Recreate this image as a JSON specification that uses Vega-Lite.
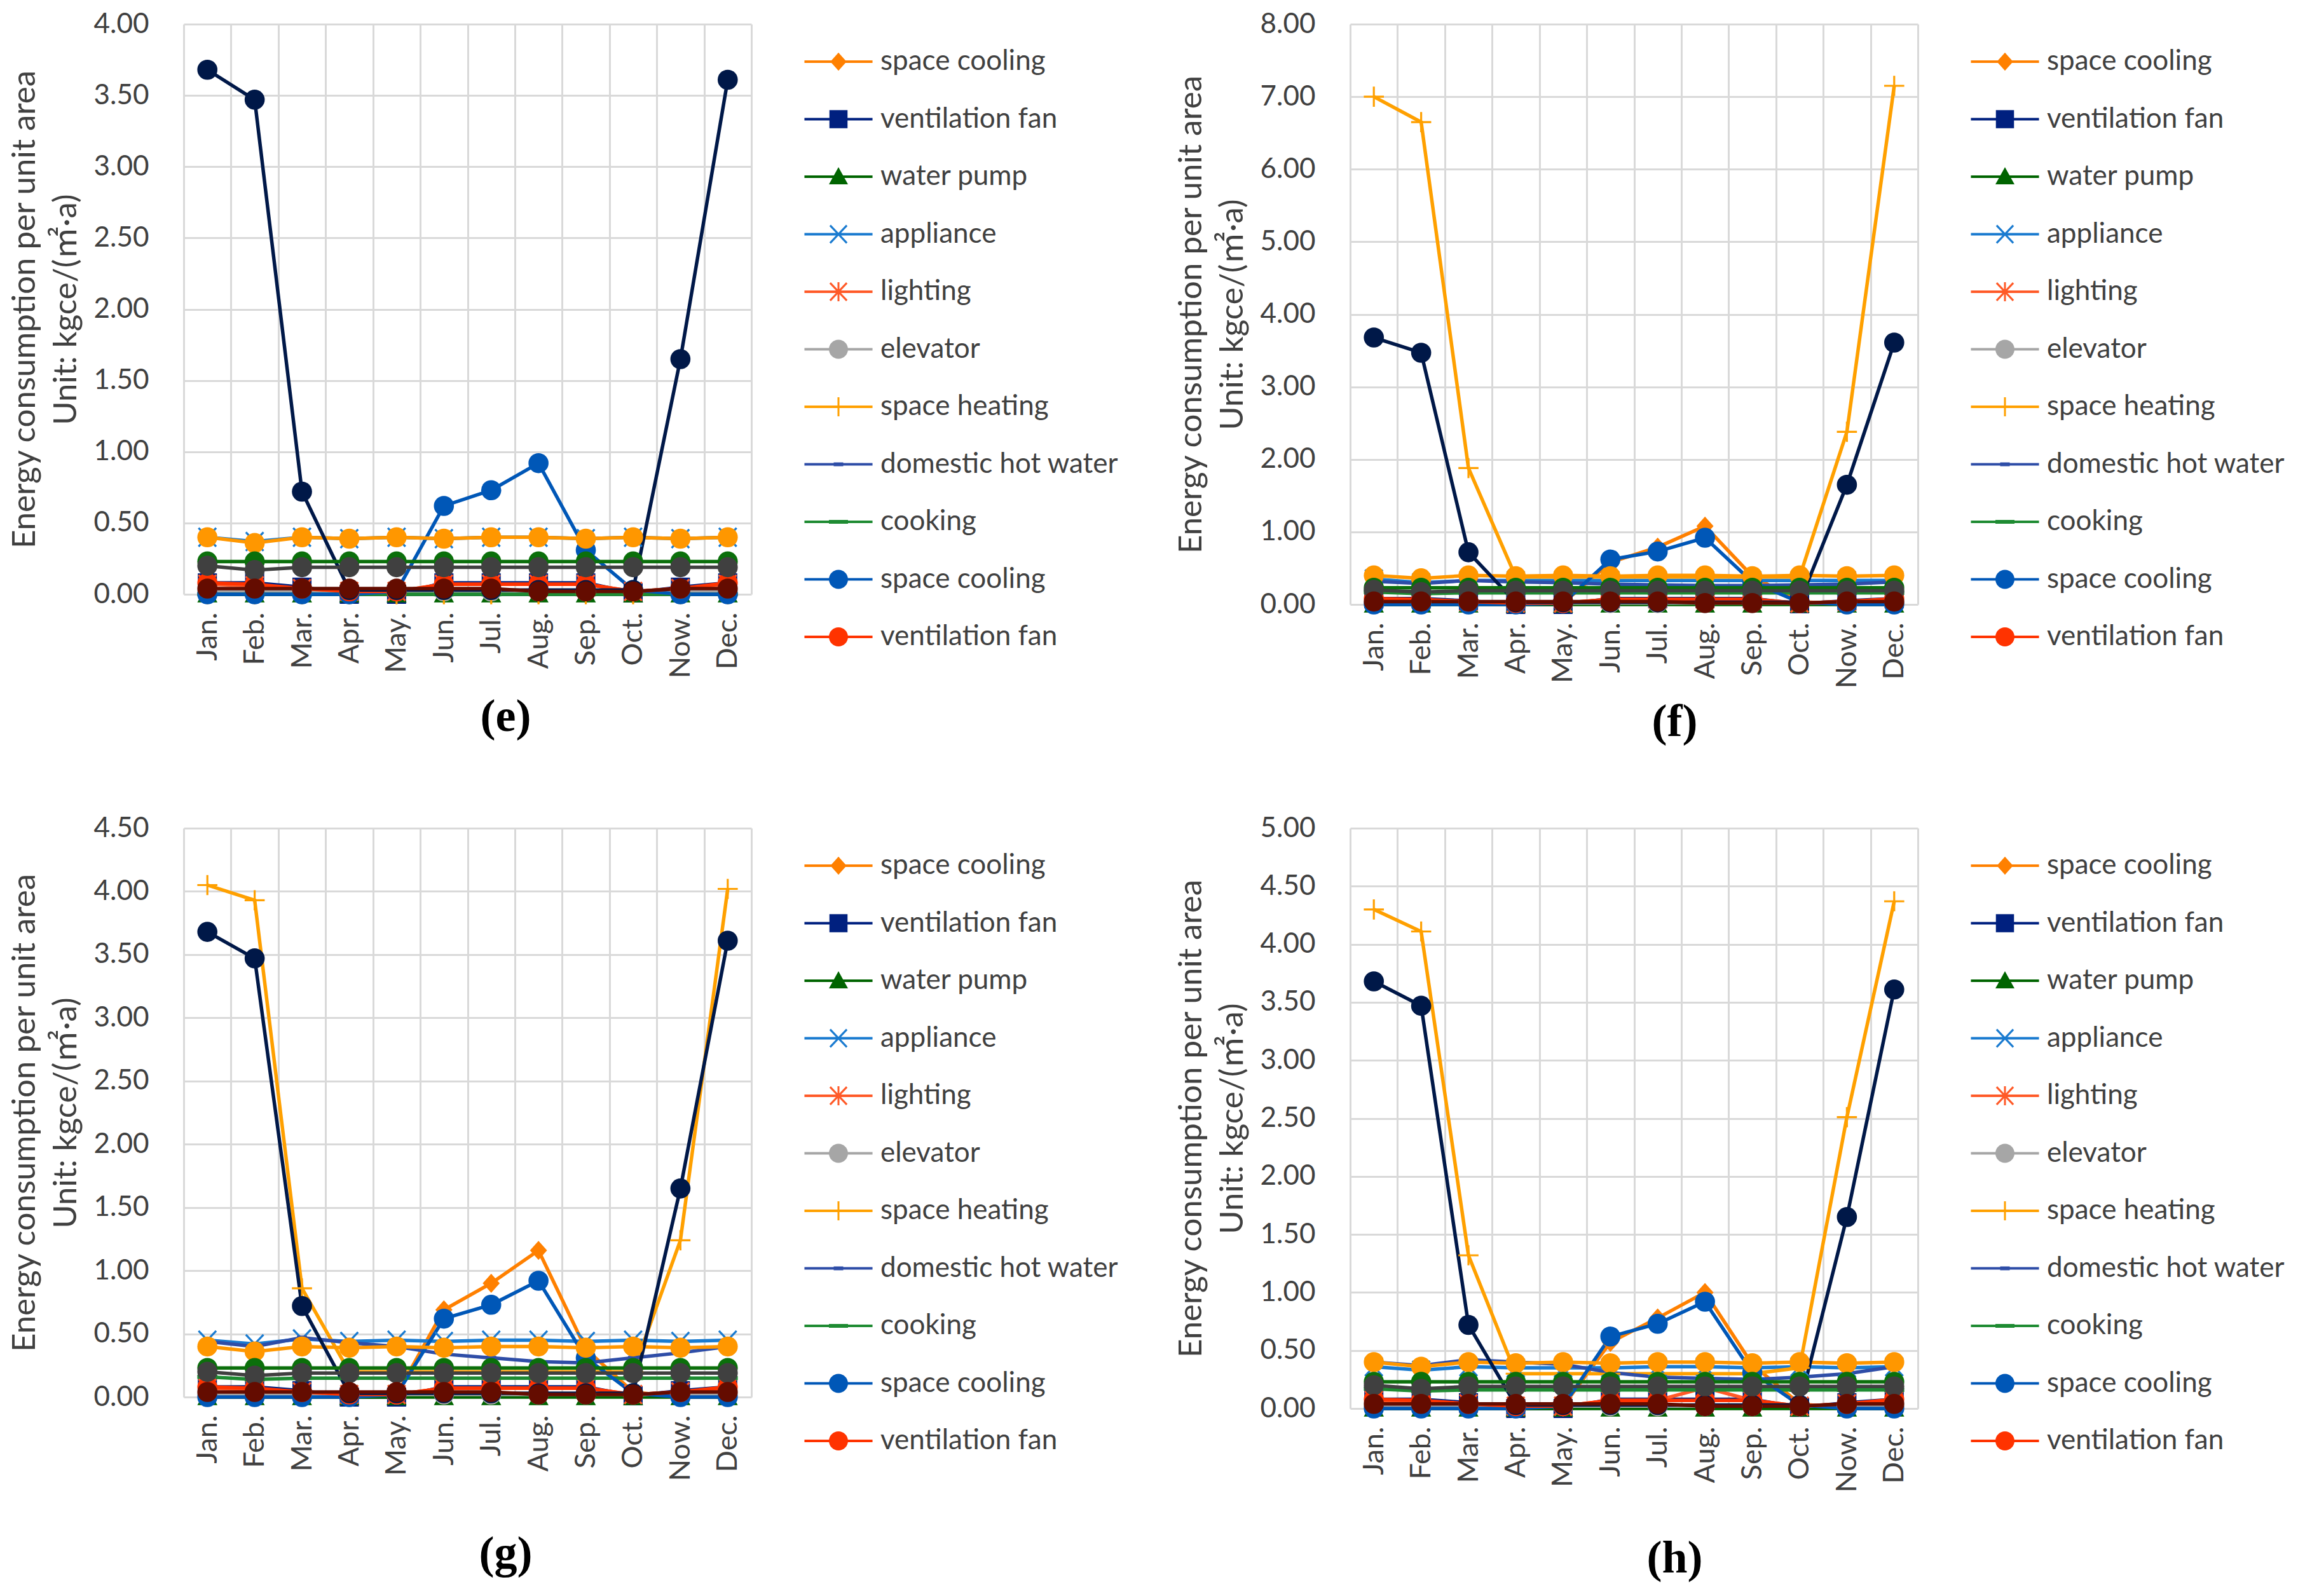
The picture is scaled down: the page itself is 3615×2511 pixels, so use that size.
{
"$schema": "https://vega.github.io/schema/vega-lite/v6.json",
"background": "white",
"padding": {"left": 13, "top": 16, "right": 5, "bottom": 5},
"datasets": {
"e": [
{"s":"sc","m":"Jan.","v":0},{"s":"sc","m":"Feb.","v":0},{"s":"sc","m":"Mar.","v":0},{"s":"sc","m":"Apr.","v":0},{"s":"sc","m":"May.","v":0},{"s":"sc","m":"Jun.","v":0},{"s":"sc","m":"Jul.","v":0},{"s":"sc","m":"Aug.","v":0},{"s":"sc","m":"Sep.","v":0},{"s":"sc","m":"Oct.","v":0},{"s":"sc","m":"Now.","v":0},{"s":"sc","m":"Dec.","v":0},
{"s":"vf","m":"Jan.","v":0.08},{"s":"vf","m":"Feb.","v":0.08},{"s":"vf","m":"Mar.","v":0.05},{"s":"vf","m":"Apr.","v":0},{"s":"vf","m":"May.","v":0},{"s":"vf","m":"Jun.","v":0.08},{"s":"vf","m":"Jul.","v":0.08},{"s":"vf","m":"Aug.","v":0.08},{"s":"vf","m":"Sep.","v":0.08},{"s":"vf","m":"Oct.","v":0.01},{"s":"vf","m":"Now.","v":0.05},{"s":"vf","m":"Dec.","v":0.08},
{"s":"wp","m":"Jan.","v":0},{"s":"wp","m":"Feb.","v":0},{"s":"wp","m":"Mar.","v":0},{"s":"wp","m":"Apr.","v":0},{"s":"wp","m":"May.","v":0},{"s":"wp","m":"Jun.","v":0},{"s":"wp","m":"Jul.","v":0},{"s":"wp","m":"Aug.","v":0},{"s":"wp","m":"Sep.","v":0},{"s":"wp","m":"Oct.","v":0},{"s":"wp","m":"Now.","v":0},{"s":"wp","m":"Dec.","v":0},
{"s":"ap","m":"Jan.","v":0.40},{"s":"ap","m":"Feb.","v":0.37},{"s":"ap","m":"Mar.","v":0.40},{"s":"ap","m":"Apr.","v":0.39},{"s":"ap","m":"May.","v":0.40},{"s":"ap","m":"Jun.","v":0.39},{"s":"ap","m":"Jul.","v":0.40},{"s":"ap","m":"Aug.","v":0.40},{"s":"ap","m":"Sep.","v":0.39},{"s":"ap","m":"Oct.","v":0.40},{"s":"ap","m":"Now.","v":0.39},{"s":"ap","m":"Dec.","v":0.40},
{"s":"li","m":"Jan.","v":0.07},{"s":"li","m":"Feb.","v":0.06},{"s":"li","m":"Mar.","v":0.04},{"s":"li","m":"Apr.","v":0.02},{"s":"li","m":"May.","v":0.02},{"s":"li","m":"Jun.","v":0.07},{"s":"li","m":"Jul.","v":0.07},{"s":"li","m":"Aug.","v":0.07},{"s":"li","m":"Sep.","v":0.07},{"s":"li","m":"Oct.","v":0.02},{"s":"li","m":"Now.","v":0.04},{"s":"li","m":"Dec.","v":0.07},
{"s":"el","m":"Jan.","v":0.02},{"s":"el","m":"Feb.","v":0.02},{"s":"el","m":"Mar.","v":0.02},{"s":"el","m":"Apr.","v":0.02},{"s":"el","m":"May.","v":0.02},{"s":"el","m":"Jun.","v":0.02},{"s":"el","m":"Jul.","v":0.02},{"s":"el","m":"Aug.","v":0.02},{"s":"el","m":"Sep.","v":0.02},{"s":"el","m":"Oct.","v":0.02},{"s":"el","m":"Now.","v":0.02},{"s":"el","m":"Dec.","v":0.02},
{"s":"sh","m":"Jan.","v":0},{"s":"sh","m":"Feb.","v":0},{"s":"sh","m":"Mar.","v":0},{"s":"sh","m":"Apr.","v":0},{"s":"sh","m":"May.","v":0},{"s":"sh","m":"Jun.","v":0},{"s":"sh","m":"Jul.","v":0},{"s":"sh","m":"Aug.","v":0},{"s":"sh","m":"Sep.","v":0},{"s":"sh","m":"Oct.","v":0},{"s":"sh","m":"Now.","v":0},{"s":"sh","m":"Dec.","v":0},
{"s":"dhw","m":"Jan.","v":0},{"s":"dhw","m":"Feb.","v":0},{"s":"dhw","m":"Mar.","v":0},{"s":"dhw","m":"Apr.","v":0},{"s":"dhw","m":"May.","v":0},{"s":"dhw","m":"Jun.","v":0},{"s":"dhw","m":"Jul.","v":0},{"s":"dhw","m":"Aug.","v":0},{"s":"dhw","m":"Sep.","v":0},{"s":"dhw","m":"Oct.","v":0},{"s":"dhw","m":"Now.","v":0},{"s":"dhw","m":"Dec.","v":0},
{"s":"ck","m":"Jan.","v":0},{"s":"ck","m":"Feb.","v":0},{"s":"ck","m":"Mar.","v":0},{"s":"ck","m":"Apr.","v":0},{"s":"ck","m":"May.","v":0},{"s":"ck","m":"Jun.","v":0},{"s":"ck","m":"Jul.","v":0},{"s":"ck","m":"Aug.","v":0},{"s":"ck","m":"Sep.","v":0},{"s":"ck","m":"Oct.","v":0},{"s":"ck","m":"Now.","v":0},{"s":"ck","m":"Dec.","v":0},
{"s":"sc2","m":"Jan.","v":0},{"s":"sc2","m":"Feb.","v":0},{"s":"sc2","m":"Mar.","v":0},{"s":"sc2","m":"Apr.","v":0},{"s":"sc2","m":"May.","v":0.02},{"s":"sc2","m":"Jun.","v":0.62},{"s":"sc2","m":"Jul.","v":0.73},{"s":"sc2","m":"Aug.","v":0.92},{"s":"sc2","m":"Sep.","v":0.31},{"s":"sc2","m":"Oct.","v":0.03},{"s":"sc2","m":"Now.","v":0},{"s":"sc2","m":"Dec.","v":0},
{"s":"vf2","m":"Jan.","v":0.08},{"s":"vf2","m":"Feb.","v":0.07},{"s":"vf2","m":"Mar.","v":0.04},{"s":"vf2","m":"Apr.","v":0.02},{"s":"vf2","m":"May.","v":0.02},{"s":"vf2","m":"Jun.","v":0.07},{"s":"vf2","m":"Jul.","v":0.07},{"s":"vf2","m":"Aug.","v":0.07},{"s":"vf2","m":"Sep.","v":0.07},{"s":"vf2","m":"Oct.","v":0.02},{"s":"vf2","m":"Now.","v":0.04},{"s":"vf2","m":"Dec.","v":0.08},
{"s":"o1","m":"Jan.","v":0.40},{"s":"o1","m":"Feb.","v":0.36},{"s":"o1","m":"Mar.","v":0.40},{"s":"o1","m":"Apr.","v":0.39},{"s":"o1","m":"May.","v":0.40},{"s":"o1","m":"Jun.","v":0.39},{"s":"o1","m":"Jul.","v":0.40},{"s":"o1","m":"Aug.","v":0.40},{"s":"o1","m":"Sep.","v":0.39},{"s":"o1","m":"Oct.","v":0.40},{"s":"o1","m":"Now.","v":0.39},{"s":"o1","m":"Dec.","v":0.40},
{"s":"o2","m":"Jan.","v":3.68},{"s":"o2","m":"Feb.","v":3.47},{"s":"o2","m":"Mar.","v":0.72},{"s":"o2","m":"Apr.","v":0.03},{"s":"o2","m":"May.","v":0.03},{"s":"o2","m":"Jun.","v":0.03},{"s":"o2","m":"Jul.","v":0.03},{"s":"o2","m":"Aug.","v":0.03},{"s":"o2","m":"Sep.","v":0.03},{"s":"o2","m":"Oct.","v":0.03},{"s":"o2","m":"Now.","v":1.65},{"s":"o2","m":"Dec.","v":3.61},
{"s":"o3","m":"Jan.","v":0.23},{"s":"o3","m":"Feb.","v":0.23},{"s":"o3","m":"Mar.","v":0.23},{"s":"o3","m":"Apr.","v":0.23},{"s":"o3","m":"May.","v":0.23},{"s":"o3","m":"Jun.","v":0.23},{"s":"o3","m":"Jul.","v":0.23},{"s":"o3","m":"Aug.","v":0.23},{"s":"o3","m":"Sep.","v":0.23},{"s":"o3","m":"Oct.","v":0.23},{"s":"o3","m":"Now.","v":0.23},{"s":"o3","m":"Dec.","v":0.23},
{"s":"o4","m":"Jan.","v":0.20},{"s":"o4","m":"Feb.","v":0.17},{"s":"o4","m":"Mar.","v":0.19},{"s":"o4","m":"Apr.","v":0.19},{"s":"o4","m":"May.","v":0.19},{"s":"o4","m":"Jun.","v":0.19},{"s":"o4","m":"Jul.","v":0.19},{"s":"o4","m":"Aug.","v":0.19},{"s":"o4","m":"Sep.","v":0.19},{"s":"o4","m":"Oct.","v":0.19},{"s":"o4","m":"Now.","v":0.19},{"s":"o4","m":"Dec.","v":0.19},
{"s":"o5","m":"Jan.","v":0.04},{"s":"o5","m":"Feb.","v":0.04},{"s":"o5","m":"Mar.","v":0.04},{"s":"o5","m":"Apr.","v":0.04},{"s":"o5","m":"May.","v":0.04},{"s":"o5","m":"Jun.","v":0.04},{"s":"o5","m":"Jul.","v":0.04},{"s":"o5","m":"Aug.","v":0.02},{"s":"o5","m":"Sep.","v":0.02},{"s":"o5","m":"Oct.","v":0.02},{"s":"o5","m":"Now.","v":0.04},{"s":"o5","m":"Dec.","v":0.04}
],
"f": [
{"s":"sc","m":"Jan.","v":0},{"s":"sc","m":"Feb.","v":0},{"s":"sc","m":"Mar.","v":0},{"s":"sc","m":"Apr.","v":0},{"s":"sc","m":"May.","v":0.02},{"s":"sc","m":"Jun.","v":0.58},{"s":"sc","m":"Jul.","v":0.79},{"s":"sc","m":"Aug.","v":1.08},{"s":"sc","m":"Sep.","v":0.39},{"s":"sc","m":"Oct.","v":0.04},{"s":"sc","m":"Now.","v":0},{"s":"sc","m":"Dec.","v":0},
{"s":"vf","m":"Jan.","v":0.08},{"s":"vf","m":"Feb.","v":0.08},{"s":"vf","m":"Mar.","v":0.05},{"s":"vf","m":"Apr.","v":0},{"s":"vf","m":"May.","v":0},{"s":"vf","m":"Jun.","v":0.08},{"s":"vf","m":"Jul.","v":0.08},{"s":"vf","m":"Aug.","v":0.08},{"s":"vf","m":"Sep.","v":0.08},{"s":"vf","m":"Oct.","v":0.01},{"s":"vf","m":"Now.","v":0.05},{"s":"vf","m":"Dec.","v":0.08},
{"s":"wp","m":"Jan.","v":0},{"s":"wp","m":"Feb.","v":0},{"s":"wp","m":"Mar.","v":0},{"s":"wp","m":"Apr.","v":0},{"s":"wp","m":"May.","v":0},{"s":"wp","m":"Jun.","v":0},{"s":"wp","m":"Jul.","v":0},{"s":"wp","m":"Aug.","v":0},{"s":"wp","m":"Sep.","v":0},{"s":"wp","m":"Oct.","v":0},{"s":"wp","m":"Now.","v":0},{"s":"wp","m":"Dec.","v":0},
{"s":"ap","m":"Jan.","v":0.35},{"s":"ap","m":"Feb.","v":0.30},{"s":"ap","m":"Mar.","v":0.33},{"s":"ap","m":"Apr.","v":0.33},{"s":"ap","m":"May.","v":0.33},{"s":"ap","m":"Jun.","v":0.33},{"s":"ap","m":"Jul.","v":0.33},{"s":"ap","m":"Aug.","v":0.33},{"s":"ap","m":"Sep.","v":0.33},{"s":"ap","m":"Oct.","v":0.33},{"s":"ap","m":"Now.","v":0.33},{"s":"ap","m":"Dec.","v":0.33},
{"s":"li","m":"Jan.","v":0.07},{"s":"li","m":"Feb.","v":0.06},{"s":"li","m":"Mar.","v":0.04},{"s":"li","m":"Apr.","v":0.02},{"s":"li","m":"May.","v":0.02},{"s":"li","m":"Jun.","v":0.07},{"s":"li","m":"Jul.","v":0.07},{"s":"li","m":"Aug.","v":0.07},{"s":"li","m":"Sep.","v":0.07},{"s":"li","m":"Oct.","v":0.02},{"s":"li","m":"Now.","v":0.04},{"s":"li","m":"Dec.","v":0.07},
{"s":"el","m":"Jan.","v":0.02},{"s":"el","m":"Feb.","v":0.02},{"s":"el","m":"Mar.","v":0.02},{"s":"el","m":"Apr.","v":0.02},{"s":"el","m":"May.","v":0.02},{"s":"el","m":"Jun.","v":0.02},{"s":"el","m":"Jul.","v":0.02},{"s":"el","m":"Aug.","v":0.02},{"s":"el","m":"Sep.","v":0.02},{"s":"el","m":"Oct.","v":0.02},{"s":"el","m":"Now.","v":0.02},{"s":"el","m":"Dec.","v":0.02},
{"s":"sh","m":"Jan.","v":7.00},{"s":"sh","m":"Feb.","v":6.65},{"s":"sh","m":"Mar.","v":1.88},{"s":"sh","m":"Apr.","v":0.38},{"s":"sh","m":"May.","v":0.38},{"s":"sh","m":"Jun.","v":0.38},{"s":"sh","m":"Jul.","v":0.38},{"s":"sh","m":"Aug.","v":0.38},{"s":"sh","m":"Sep.","v":0.38},{"s":"sh","m":"Oct.","v":0.38},{"s":"sh","m":"Now.","v":2.38},{"s":"sh","m":"Dec.","v":7.15},
{"s":"dhw","m":"Jan.","v":0.32},{"s":"dhw","m":"Feb.","v":0.29},{"s":"dhw","m":"Mar.","v":0.33},{"s":"dhw","m":"Apr.","v":0.31},{"s":"dhw","m":"May.","v":0.30},{"s":"dhw","m":"Jun.","v":0.28},{"s":"dhw","m":"Jul.","v":0.27},{"s":"dhw","m":"Aug.","v":0.26},{"s":"dhw","m":"Sep.","v":0.26},{"s":"dhw","m":"Oct.","v":0.27},{"s":"dhw","m":"Now.","v":0.28},{"s":"dhw","m":"Dec.","v":0.31},
{"s":"ck","m":"Jan.","v":0.17},{"s":"ck","m":"Feb.","v":0.15},{"s":"ck","m":"Mar.","v":0.16},{"s":"ck","m":"Apr.","v":0.16},{"s":"ck","m":"May.","v":0.16},{"s":"ck","m":"Jun.","v":0.16},{"s":"ck","m":"Jul.","v":0.16},{"s":"ck","m":"Aug.","v":0.16},{"s":"ck","m":"Sep.","v":0.16},{"s":"ck","m":"Oct.","v":0.16},{"s":"ck","m":"Now.","v":0.16},{"s":"ck","m":"Dec.","v":0.16},
{"s":"sc2","m":"Jan.","v":0},{"s":"sc2","m":"Feb.","v":0},{"s":"sc2","m":"Mar.","v":0},{"s":"sc2","m":"Apr.","v":0},{"s":"sc2","m":"May.","v":0.02},{"s":"sc2","m":"Jun.","v":0.62},{"s":"sc2","m":"Jul.","v":0.73},{"s":"sc2","m":"Aug.","v":0.92},{"s":"sc2","m":"Sep.","v":0.31},{"s":"sc2","m":"Oct.","v":0.03},{"s":"sc2","m":"Now.","v":0},{"s":"sc2","m":"Dec.","v":0},
{"s":"vf2","m":"Jan.","v":0.08},{"s":"vf2","m":"Feb.","v":0.07},{"s":"vf2","m":"Mar.","v":0.04},{"s":"vf2","m":"Apr.","v":0.02},{"s":"vf2","m":"May.","v":0.02},{"s":"vf2","m":"Jun.","v":0.07},{"s":"vf2","m":"Jul.","v":0.07},{"s":"vf2","m":"Aug.","v":0.07},{"s":"vf2","m":"Sep.","v":0.07},{"s":"vf2","m":"Oct.","v":0.02},{"s":"vf2","m":"Now.","v":0.04},{"s":"vf2","m":"Dec.","v":0.08},
{"s":"o1","m":"Jan.","v":0.40},{"s":"o1","m":"Feb.","v":0.36},{"s":"o1","m":"Mar.","v":0.40},{"s":"o1","m":"Apr.","v":0.39},{"s":"o1","m":"May.","v":0.40},{"s":"o1","m":"Jun.","v":0.39},{"s":"o1","m":"Jul.","v":0.40},{"s":"o1","m":"Aug.","v":0.40},{"s":"o1","m":"Sep.","v":0.39},{"s":"o1","m":"Oct.","v":0.40},{"s":"o1","m":"Now.","v":0.39},{"s":"o1","m":"Dec.","v":0.40},
{"s":"o2","m":"Jan.","v":3.68},{"s":"o2","m":"Feb.","v":3.47},{"s":"o2","m":"Mar.","v":0.72},{"s":"o2","m":"Apr.","v":0.03},{"s":"o2","m":"May.","v":0.03},{"s":"o2","m":"Jun.","v":0.03},{"s":"o2","m":"Jul.","v":0.03},{"s":"o2","m":"Aug.","v":0.03},{"s":"o2","m":"Sep.","v":0.03},{"s":"o2","m":"Oct.","v":0.03},{"s":"o2","m":"Now.","v":1.65},{"s":"o2","m":"Dec.","v":3.61},
{"s":"o3","m":"Jan.","v":0.23},{"s":"o3","m":"Feb.","v":0.23},{"s":"o3","m":"Mar.","v":0.23},{"s":"o3","m":"Apr.","v":0.23},{"s":"o3","m":"May.","v":0.23},{"s":"o3","m":"Jun.","v":0.23},{"s":"o3","m":"Jul.","v":0.23},{"s":"o3","m":"Aug.","v":0.23},{"s":"o3","m":"Sep.","v":0.23},{"s":"o3","m":"Oct.","v":0.23},{"s":"o3","m":"Now.","v":0.23},{"s":"o3","m":"Dec.","v":0.23},
{"s":"o4","m":"Jan.","v":0.20},{"s":"o4","m":"Feb.","v":0.17},{"s":"o4","m":"Mar.","v":0.19},{"s":"o4","m":"Apr.","v":0.19},{"s":"o4","m":"May.","v":0.19},{"s":"o4","m":"Jun.","v":0.19},{"s":"o4","m":"Jul.","v":0.19},{"s":"o4","m":"Aug.","v":0.19},{"s":"o4","m":"Sep.","v":0.19},{"s":"o4","m":"Oct.","v":0.19},{"s":"o4","m":"Now.","v":0.19},{"s":"o4","m":"Dec.","v":0.19},
{"s":"o5","m":"Jan.","v":0.04},{"s":"o5","m":"Feb.","v":0.04},{"s":"o5","m":"Mar.","v":0.04},{"s":"o5","m":"Apr.","v":0.04},{"s":"o5","m":"May.","v":0.04},{"s":"o5","m":"Jun.","v":0.04},{"s":"o5","m":"Jul.","v":0.04},{"s":"o5","m":"Aug.","v":0.02},{"s":"o5","m":"Sep.","v":0.02},{"s":"o5","m":"Oct.","v":0.02},{"s":"o5","m":"Now.","v":0.04},{"s":"o5","m":"Dec.","v":0.04}
],
"g": [
{"s":"sc","m":"Jan.","v":0},{"s":"sc","m":"Feb.","v":0},{"s":"sc","m":"Mar.","v":0},{"s":"sc","m":"Apr.","v":0},{"s":"sc","m":"May.","v":0.02},{"s":"sc","m":"Jun.","v":0.69},{"s":"sc","m":"Jul.","v":0.90},{"s":"sc","m":"Aug.","v":1.16},{"s":"sc","m":"Sep.","v":0.38},{"s":"sc","m":"Oct.","v":0.04},{"s":"sc","m":"Now.","v":0},{"s":"sc","m":"Dec.","v":0},
{"s":"vf","m":"Jan.","v":0.08},{"s":"vf","m":"Feb.","v":0.08},{"s":"vf","m":"Mar.","v":0.05},{"s":"vf","m":"Apr.","v":0},{"s":"vf","m":"May.","v":0},{"s":"vf","m":"Jun.","v":0.08},{"s":"vf","m":"Jul.","v":0.08},{"s":"vf","m":"Aug.","v":0.08},{"s":"vf","m":"Sep.","v":0.08},{"s":"vf","m":"Oct.","v":0.01},{"s":"vf","m":"Now.","v":0.05},{"s":"vf","m":"Dec.","v":0.08},
{"s":"wp","m":"Jan.","v":0},{"s":"wp","m":"Feb.","v":0},{"s":"wp","m":"Mar.","v":0},{"s":"wp","m":"Apr.","v":0},{"s":"wp","m":"May.","v":0},{"s":"wp","m":"Jun.","v":0},{"s":"wp","m":"Jul.","v":0},{"s":"wp","m":"Aug.","v":0},{"s":"wp","m":"Sep.","v":0},{"s":"wp","m":"Oct.","v":0},{"s":"wp","m":"Now.","v":0},{"s":"wp","m":"Dec.","v":0},
{"s":"ap","m":"Jan.","v":0.45},{"s":"ap","m":"Feb.","v":0.42},{"s":"ap","m":"Mar.","v":0.46},{"s":"ap","m":"Apr.","v":0.44},{"s":"ap","m":"May.","v":0.45},{"s":"ap","m":"Jun.","v":0.44},{"s":"ap","m":"Jul.","v":0.45},{"s":"ap","m":"Aug.","v":0.45},{"s":"ap","m":"Sep.","v":0.44},{"s":"ap","m":"Oct.","v":0.45},{"s":"ap","m":"Now.","v":0.44},{"s":"ap","m":"Dec.","v":0.45},
{"s":"li","m":"Jan.","v":0.07},{"s":"li","m":"Feb.","v":0.06},{"s":"li","m":"Mar.","v":0.04},{"s":"li","m":"Apr.","v":0.02},{"s":"li","m":"May.","v":0.02},{"s":"li","m":"Jun.","v":0.07},{"s":"li","m":"Jul.","v":0.07},{"s":"li","m":"Aug.","v":0.07},{"s":"li","m":"Sep.","v":0.07},{"s":"li","m":"Oct.","v":0.02},{"s":"li","m":"Now.","v":0.04},{"s":"li","m":"Dec.","v":0.07},
{"s":"el","m":"Jan.","v":0.02},{"s":"el","m":"Feb.","v":0.02},{"s":"el","m":"Mar.","v":0.02},{"s":"el","m":"Apr.","v":0.02},{"s":"el","m":"May.","v":0.02},{"s":"el","m":"Jun.","v":0.02},{"s":"el","m":"Jul.","v":0.02},{"s":"el","m":"Aug.","v":0.02},{"s":"el","m":"Sep.","v":0.02},{"s":"el","m":"Oct.","v":0.02},{"s":"el","m":"Now.","v":0.02},{"s":"el","m":"Dec.","v":0.02},
{"s":"sh","m":"Jan.","v":4.05},{"s":"sh","m":"Feb.","v":3.93},{"s":"sh","m":"Mar.","v":0.86},{"s":"sh","m":"Apr.","v":0.20},{"s":"sh","m":"May.","v":0.20},{"s":"sh","m":"Jun.","v":0.20},{"s":"sh","m":"Jul.","v":0.20},{"s":"sh","m":"Aug.","v":0.20},{"s":"sh","m":"Sep.","v":0.20},{"s":"sh","m":"Oct.","v":0.20},{"s":"sh","m":"Now.","v":1.24},{"s":"sh","m":"Dec.","v":4.02},
{"s":"dhw","m":"Jan.","v":0.44},{"s":"dhw","m":"Feb.","v":0.40},{"s":"dhw","m":"Mar.","v":0.47},{"s":"dhw","m":"Apr.","v":0.43},{"s":"dhw","m":"May.","v":0.40},{"s":"dhw","m":"Jun.","v":0.34},{"s":"dhw","m":"Jul.","v":0.31},{"s":"dhw","m":"Aug.","v":0.28},{"s":"dhw","m":"Sep.","v":0.27},{"s":"dhw","m":"Oct.","v":0.31},{"s":"dhw","m":"Now.","v":0.35},{"s":"dhw","m":"Dec.","v":0.40},
{"s":"ck","m":"Jan.","v":0.16},{"s":"ck","m":"Feb.","v":0.14},{"s":"ck","m":"Mar.","v":0.15},{"s":"ck","m":"Apr.","v":0.15},{"s":"ck","m":"May.","v":0.15},{"s":"ck","m":"Jun.","v":0.15},{"s":"ck","m":"Jul.","v":0.15},{"s":"ck","m":"Aug.","v":0.15},{"s":"ck","m":"Sep.","v":0.15},{"s":"ck","m":"Oct.","v":0.15},{"s":"ck","m":"Now.","v":0.15},{"s":"ck","m":"Dec.","v":0.15},
{"s":"sc2","m":"Jan.","v":0},{"s":"sc2","m":"Feb.","v":0},{"s":"sc2","m":"Mar.","v":0},{"s":"sc2","m":"Apr.","v":0},{"s":"sc2","m":"May.","v":0.02},{"s":"sc2","m":"Jun.","v":0.62},{"s":"sc2","m":"Jul.","v":0.73},{"s":"sc2","m":"Aug.","v":0.92},{"s":"sc2","m":"Sep.","v":0.31},{"s":"sc2","m":"Oct.","v":0.03},{"s":"sc2","m":"Now.","v":0},{"s":"sc2","m":"Dec.","v":0},
{"s":"vf2","m":"Jan.","v":0.08},{"s":"vf2","m":"Feb.","v":0.07},{"s":"vf2","m":"Mar.","v":0.04},{"s":"vf2","m":"Apr.","v":0.02},{"s":"vf2","m":"May.","v":0.02},{"s":"vf2","m":"Jun.","v":0.07},{"s":"vf2","m":"Jul.","v":0.07},{"s":"vf2","m":"Aug.","v":0.07},{"s":"vf2","m":"Sep.","v":0.07},{"s":"vf2","m":"Oct.","v":0.02},{"s":"vf2","m":"Now.","v":0.04},{"s":"vf2","m":"Dec.","v":0.08},
{"s":"o1","m":"Jan.","v":0.40},{"s":"o1","m":"Feb.","v":0.36},{"s":"o1","m":"Mar.","v":0.40},{"s":"o1","m":"Apr.","v":0.39},{"s":"o1","m":"May.","v":0.40},{"s":"o1","m":"Jun.","v":0.39},{"s":"o1","m":"Jul.","v":0.40},{"s":"o1","m":"Aug.","v":0.40},{"s":"o1","m":"Sep.","v":0.39},{"s":"o1","m":"Oct.","v":0.40},{"s":"o1","m":"Now.","v":0.39},{"s":"o1","m":"Dec.","v":0.40},
{"s":"o2","m":"Jan.","v":3.68},{"s":"o2","m":"Feb.","v":3.47},{"s":"o2","m":"Mar.","v":0.72},{"s":"o2","m":"Apr.","v":0.03},{"s":"o2","m":"May.","v":0.03},{"s":"o2","m":"Jun.","v":0.03},{"s":"o2","m":"Jul.","v":0.03},{"s":"o2","m":"Aug.","v":0.03},{"s":"o2","m":"Sep.","v":0.03},{"s":"o2","m":"Oct.","v":0.03},{"s":"o2","m":"Now.","v":1.65},{"s":"o2","m":"Dec.","v":3.61},
{"s":"o3","m":"Jan.","v":0.23},{"s":"o3","m":"Feb.","v":0.23},{"s":"o3","m":"Mar.","v":0.23},{"s":"o3","m":"Apr.","v":0.23},{"s":"o3","m":"May.","v":0.23},{"s":"o3","m":"Jun.","v":0.23},{"s":"o3","m":"Jul.","v":0.23},{"s":"o3","m":"Aug.","v":0.23},{"s":"o3","m":"Sep.","v":0.23},{"s":"o3","m":"Oct.","v":0.23},{"s":"o3","m":"Now.","v":0.23},{"s":"o3","m":"Dec.","v":0.23},
{"s":"o4","m":"Jan.","v":0.20},{"s":"o4","m":"Feb.","v":0.17},{"s":"o4","m":"Mar.","v":0.19},{"s":"o4","m":"Apr.","v":0.19},{"s":"o4","m":"May.","v":0.19},{"s":"o4","m":"Jun.","v":0.19},{"s":"o4","m":"Jul.","v":0.19},{"s":"o4","m":"Aug.","v":0.19},{"s":"o4","m":"Sep.","v":0.19},{"s":"o4","m":"Oct.","v":0.19},{"s":"o4","m":"Now.","v":0.19},{"s":"o4","m":"Dec.","v":0.19},
{"s":"o5","m":"Jan.","v":0.04},{"s":"o5","m":"Feb.","v":0.04},{"s":"o5","m":"Mar.","v":0.04},{"s":"o5","m":"Apr.","v":0.04},{"s":"o5","m":"May.","v":0.04},{"s":"o5","m":"Jun.","v":0.04},{"s":"o5","m":"Jul.","v":0.04},{"s":"o5","m":"Aug.","v":0.02},{"s":"o5","m":"Sep.","v":0.02},{"s":"o5","m":"Oct.","v":0.02},{"s":"o5","m":"Now.","v":0.04},{"s":"o5","m":"Dec.","v":0.04}
],
"h": [
{"s":"sc","m":"Jan.","v":0},{"s":"sc","m":"Feb.","v":0},{"s":"sc","m":"Mar.","v":0},{"s":"sc","m":"Apr.","v":0},{"s":"sc","m":"May.","v":0.02},{"s":"sc","m":"Jun.","v":0.57},{"s":"sc","m":"Jul.","v":0.78},{"s":"sc","m":"Aug.","v":1.00},{"s":"sc","m":"Sep.","v":0.38},{"s":"sc","m":"Oct.","v":0.04},{"s":"sc","m":"Now.","v":0},{"s":"sc","m":"Dec.","v":0},
{"s":"vf","m":"Jan.","v":0.08},{"s":"vf","m":"Feb.","v":0.08},{"s":"vf","m":"Mar.","v":0.05},{"s":"vf","m":"Apr.","v":0},{"s":"vf","m":"May.","v":0},{"s":"vf","m":"Jun.","v":0.08},{"s":"vf","m":"Jul.","v":0.08},{"s":"vf","m":"Aug.","v":0.08},{"s":"vf","m":"Sep.","v":0.08},{"s":"vf","m":"Oct.","v":0.01},{"s":"vf","m":"Now.","v":0.05},{"s":"vf","m":"Dec.","v":0.08},
{"s":"wp","m":"Jan.","v":0},{"s":"wp","m":"Feb.","v":0},{"s":"wp","m":"Mar.","v":0},{"s":"wp","m":"Apr.","v":0},{"s":"wp","m":"May.","v":0},{"s":"wp","m":"Jun.","v":0},{"s":"wp","m":"Jul.","v":0},{"s":"wp","m":"Aug.","v":0},{"s":"wp","m":"Sep.","v":0},{"s":"wp","m":"Oct.","v":0},{"s":"wp","m":"Now.","v":0},{"s":"wp","m":"Dec.","v":0},
{"s":"ap","m":"Jan.","v":0.36},{"s":"ap","m":"Feb.","v":0.33},{"s":"ap","m":"Mar.","v":0.36},{"s":"ap","m":"Apr.","v":0.35},{"s":"ap","m":"May.","v":0.35},{"s":"ap","m":"Jun.","v":0.35},{"s":"ap","m":"Jul.","v":0.36},{"s":"ap","m":"Aug.","v":0.36},{"s":"ap","m":"Sep.","v":0.35},{"s":"ap","m":"Oct.","v":0.36},{"s":"ap","m":"Now.","v":0.35},{"s":"ap","m":"Dec.","v":0.36},
{"s":"li","m":"Jan.","v":0.07},{"s":"li","m":"Feb.","v":0.06},{"s":"li","m":"Mar.","v":0.04},{"s":"li","m":"Apr.","v":0.02},{"s":"li","m":"May.","v":0.02},{"s":"li","m":"Jun.","v":0.07},{"s":"li","m":"Jul.","v":0.07},{"s":"li","m":"Aug.","v":0.18},{"s":"li","m":"Sep.","v":0.07},{"s":"li","m":"Oct.","v":0.02},{"s":"li","m":"Now.","v":0.04},{"s":"li","m":"Dec.","v":0.07},
{"s":"el","m":"Jan.","v":0.02},{"s":"el","m":"Feb.","v":0.02},{"s":"el","m":"Mar.","v":0.02},{"s":"el","m":"Apr.","v":0.02},{"s":"el","m":"May.","v":0.02},{"s":"el","m":"Jun.","v":0.02},{"s":"el","m":"Jul.","v":0.02},{"s":"el","m":"Aug.","v":0.02},{"s":"el","m":"Sep.","v":0.02},{"s":"el","m":"Oct.","v":0.02},{"s":"el","m":"Now.","v":0.02},{"s":"el","m":"Dec.","v":0.02},
{"s":"sh","m":"Jan.","v":4.30},{"s":"sh","m":"Feb.","v":4.11},{"s":"sh","m":"Mar.","v":1.32},{"s":"sh","m":"Apr.","v":0.30},{"s":"sh","m":"May.","v":0.30},{"s":"sh","m":"Jun.","v":0.30},{"s":"sh","m":"Jul.","v":0.30},{"s":"sh","m":"Aug.","v":0.30},{"s":"sh","m":"Sep.","v":0.30},{"s":"sh","m":"Oct.","v":0.35},{"s":"sh","m":"Now.","v":2.51},{"s":"sh","m":"Dec.","v":4.37},
{"s":"dhw","m":"Jan.","v":0.40},{"s":"dhw","m":"Feb.","v":0.37},{"s":"dhw","m":"Mar.","v":0.42},{"s":"dhw","m":"Apr.","v":0.40},{"s":"dhw","m":"May.","v":0.38},{"s":"dhw","m":"Jun.","v":0.31},{"s":"dhw","m":"Jul.","v":0.27},{"s":"dhw","m":"Aug.","v":0.26},{"s":"dhw","m":"Sep.","v":0.25},{"s":"dhw","m":"Oct.","v":0.27},{"s":"dhw","m":"Now.","v":0.30},{"s":"dhw","m":"Dec.","v":0.36},
{"s":"ck","m":"Jan.","v":0.17},{"s":"ck","m":"Feb.","v":0.15},{"s":"ck","m":"Mar.","v":0.16},{"s":"ck","m":"Apr.","v":0.16},{"s":"ck","m":"May.","v":0.16},{"s":"ck","m":"Jun.","v":0.16},{"s":"ck","m":"Jul.","v":0.16},{"s":"ck","m":"Aug.","v":0.16},{"s":"ck","m":"Sep.","v":0.16},{"s":"ck","m":"Oct.","v":0.16},{"s":"ck","m":"Now.","v":0.16},{"s":"ck","m":"Dec.","v":0.16},
{"s":"sc2","m":"Jan.","v":0},{"s":"sc2","m":"Feb.","v":0},{"s":"sc2","m":"Mar.","v":0},{"s":"sc2","m":"Apr.","v":0},{"s":"sc2","m":"May.","v":0.02},{"s":"sc2","m":"Jun.","v":0.62},{"s":"sc2","m":"Jul.","v":0.73},{"s":"sc2","m":"Aug.","v":0.92},{"s":"sc2","m":"Sep.","v":0.31},{"s":"sc2","m":"Oct.","v":0.03},{"s":"sc2","m":"Now.","v":0},{"s":"sc2","m":"Dec.","v":0},
{"s":"vf2","m":"Jan.","v":0.08},{"s":"vf2","m":"Feb.","v":0.07},{"s":"vf2","m":"Mar.","v":0.04},{"s":"vf2","m":"Apr.","v":0.02},{"s":"vf2","m":"May.","v":0.02},{"s":"vf2","m":"Jun.","v":0.07},{"s":"vf2","m":"Jul.","v":0.07},{"s":"vf2","m":"Aug.","v":0.07},{"s":"vf2","m":"Sep.","v":0.07},{"s":"vf2","m":"Oct.","v":0.02},{"s":"vf2","m":"Now.","v":0.04},{"s":"vf2","m":"Dec.","v":0.08},
{"s":"o1","m":"Jan.","v":0.40},{"s":"o1","m":"Feb.","v":0.36},{"s":"o1","m":"Mar.","v":0.40},{"s":"o1","m":"Apr.","v":0.39},{"s":"o1","m":"May.","v":0.40},{"s":"o1","m":"Jun.","v":0.39},{"s":"o1","m":"Jul.","v":0.40},{"s":"o1","m":"Aug.","v":0.40},{"s":"o1","m":"Sep.","v":0.39},{"s":"o1","m":"Oct.","v":0.40},{"s":"o1","m":"Now.","v":0.39},{"s":"o1","m":"Dec.","v":0.40},
{"s":"o2","m":"Jan.","v":3.68},{"s":"o2","m":"Feb.","v":3.47},{"s":"o2","m":"Mar.","v":0.72},{"s":"o2","m":"Apr.","v":0.03},{"s":"o2","m":"May.","v":0.03},{"s":"o2","m":"Jun.","v":0.03},{"s":"o2","m":"Jul.","v":0.03},{"s":"o2","m":"Aug.","v":0.03},{"s":"o2","m":"Sep.","v":0.03},{"s":"o2","m":"Oct.","v":0.03},{"s":"o2","m":"Now.","v":1.65},{"s":"o2","m":"Dec.","v":3.61},
{"s":"o3","m":"Jan.","v":0.23},{"s":"o3","m":"Feb.","v":0.23},{"s":"o3","m":"Mar.","v":0.23},{"s":"o3","m":"Apr.","v":0.23},{"s":"o3","m":"May.","v":0.23},{"s":"o3","m":"Jun.","v":0.23},{"s":"o3","m":"Jul.","v":0.23},{"s":"o3","m":"Aug.","v":0.23},{"s":"o3","m":"Sep.","v":0.23},{"s":"o3","m":"Oct.","v":0.23},{"s":"o3","m":"Now.","v":0.23},{"s":"o3","m":"Dec.","v":0.23},
{"s":"o4","m":"Jan.","v":0.20},{"s":"o4","m":"Feb.","v":0.17},{"s":"o4","m":"Mar.","v":0.19},{"s":"o4","m":"Apr.","v":0.19},{"s":"o4","m":"May.","v":0.19},{"s":"o4","m":"Jun.","v":0.19},{"s":"o4","m":"Jul.","v":0.19},{"s":"o4","m":"Aug.","v":0.19},{"s":"o4","m":"Sep.","v":0.19},{"s":"o4","m":"Oct.","v":0.19},{"s":"o4","m":"Now.","v":0.19},{"s":"o4","m":"Dec.","v":0.19},
{"s":"o5","m":"Jan.","v":0.04},{"s":"o5","m":"Feb.","v":0.04},{"s":"o5","m":"Mar.","v":0.04},{"s":"o5","m":"Apr.","v":0.04},{"s":"o5","m":"May.","v":0.04},{"s":"o5","m":"Jun.","v":0.04},{"s":"o5","m":"Jul.","v":0.04},{"s":"o5","m":"Aug.","v":0.02},{"s":"o5","m":"Sep.","v":0.02},{"s":"o5","m":"Oct.","v":0.02},{"s":"o5","m":"Now.","v":0.04},{"s":"o5","m":"Dec.","v":0.04}
]
},
"config": {
"font": "Lato",
"view": {"stroke": null},
"axisX": {"labelAngle": 270, "labelFont": "Lato", "labelFontSize": 45, "labelColor": "#404040", "labelPadding": 28, "ticks": false, "domain": false, "grid": true, "tickBand": "extent", "gridColor": "#D9D9D9", "gridWidth": 3, "titleFont": "Liberation Serif", "titleFontWeight": "bold", "titleFontSize": 72, "titleColor": "#000000", "titleBaseline": "middle", "titleAlign": "center"},
"axisY": {"labelFont": "Lato", "labelFontSize": 44, "labelColor": "#404040", "labelPadding": 55, "ticks": false, "domain": false, "grid": true, "gridColor": "#D9D9D9", "gridWidth": 3, "titleFont": "Lato, 'Noto Sans CJK SC'", "titleFontSize": 51, "titleFontWeight": "normal", "titleColor": "#404040", "titleLineHeight": 65, "titlePadding": 17},
"legend": {"labelFont": "Lato", "labelFontSize": 44, "labelColor": "#404040", "symbolSize": 900, "symbolStrokeWidth": 0, "symbolOpacity": 1, "rowPadding": 46.5, "labelOffset": 44, "symbolOffset": 0, "labelLimit": 0}
},
"spacing": 110,
"vconcat": [
{"spacing": 88, "hconcat": [
{"data": {"name": "e"}, "width": 893, "height": 897,
 "encoding": {
  "x": {"field": "m", "type": "ordinal", "sort": ["Jan.","Feb.","Mar.","Apr.","May.","Jun.","Jul.","Aug.","Sep.","Oct.","Now.","Dec."], "scale": {"type": "band", "domain": ["Jan.","Feb.","Mar.","Apr.","May.","Jun.","Jul.","Aug.","Sep.","Oct.","Now.","Dec."], "paddingInner": 0, "paddingOuter": 0}, "axis": {"grid": true, "title": "(e)", "titleX": 506, "titleY": 192}},
  "y": {"field": "v", "type": "quantitative", "scale": {"domain": [0, 4], "nice": false}, "axis": {"values": [0,0.5,1,1.5,2,2.5,3,3.5,4], "format": ".2f", "title": ["Energy consumption per unit area", "Unit: kgce/(㎡·a)"]}}
 },
 "layer": [
  {"mark": {"type": "line", "strokeWidth": 5.5}, "encoding": {"color": {"field": "s", "type": "nominal", "legend": null, "scale": {"domain": ["sc","vf","wp","ap","li","el","sh","dhw","ck","sc2","vf2","o1","o2","o3","o4","o5"], "range": ["#FF8000","#00207F","#006400","#1A7BD0","#FF5A28","#A6A6A6","#FFA000","#2E4DA7","#1E8B32","#0057B7","#FF3300","#FF9700","#001848","#0B6F0B","#404040","#640C00"]}}}},
  {"mark": {"type": "point", "filled": true, "opacity": 1, "size": 1000, "strokeWidth": 0}, "encoding": {"color": {"field": "s", "type": "nominal", "legend": null, "scale": {"domain": ["sc","vf","wp","ap","li","el","sh","dhw","ck","sc2","vf2","o1","o2","o3","o4","o5"], "range": ["#FF8000","#00207F","#006400","#1A7BD0","#FF5A28","#A6A6A6","#FFA000","#2E4DA7","#1E8B32","#0057B7","#FF3300","#FF9700","#001848","#0B6F0B","#404040","#640C00"]}}, "shape": {"field": "s", "type": "nominal", "legend": null, "scale": {"domain": ["sc","vf","wp","ap","li","el","sh","dhw","ck","sc2","vf2","o1","o2","o3","o4","o5"], "range": ["M0,-0.95L0.85,0L0,0.95L-0.85,0Z","M-0.95,-0.95H0.95V0.95H-0.95Z","M0,-1L1,0.8H-1Z","M-0.95,-0.85L-0.8,-1L0.95,0.85L0.8,1Z M0.8,-1L0.95,-0.85L-0.8,1L-0.95,0.85Z","M-0.95,-0.85L-0.8,-1L0.95,0.85L0.8,1Z M0.8,-1L0.95,-0.85L-0.8,1L-0.95,0.85Z M-0.1,-1H0.1V1H-0.1Z","circle","M-1,-0.1H1V0.1H-1Z M-0.1,-1H0.1V1H-0.1Z","M-0.5,-0.2H0.5V0.2H-0.5Z","M-1,-0.2H1V0.2H-1Z","circle","circle","circle","circle","circle","circle","circle"]}}}},
  {"transform": [{"filter": "datum.v < -100"}], "mark": {"type": "point", "filled": true, "opacity": 1, "size": 900, "strokeWidth": 0}, "encoding": {
   "color": {"field": "s", "type": "nominal", "scale": {"domain": ["sc","vf","wp","ap","li","el","sh","dhw","ck","sc2","vf2","o1","o2","o3","o4","o5"], "range": ["#FF8000","#00207F","#006400","#1A7BD0","#FF5A28","#A6A6A6","#FFA000","#2E4DA7","#1E8B32","#0057B7","#FF3300","#FF9700","#001848","#0B6F0B","#404040","#640C00"]}, "legend": {"values": ["sc","vf","wp","ap","li","el","sh","dhw","ck","sc2","vf2"], "title": null, "orient": "none", "direction": "vertical", "legendX": 1008, "legendY": 37, "labelExpr": "datum.value === 'sc' || datum.value === 'sc2' ? 'space cooling' : datum.value === 'vf' || datum.value === 'vf2' ? 'ventilation fan' : datum.value === 'wp' ? 'water pump' : datum.value === 'ap' ? 'appliance' : datum.value === 'li' ? 'lighting' : datum.value === 'el' ? 'elevator' : datum.value === 'sh' ? 'space heating' : datum.value === 'dhw' ? 'domestic hot water' : 'cooking'"}},
   "shape": {"field": "s", "type": "nominal", "scale": {"domain": ["sc","vf","wp","ap","li","el","sh","dhw","ck","sc2","vf2","o1","o2","o3","o4","o5"], "range": ["M-3.57,-0.13H3.57V0.13H-3.57Z M0,-0.95L0.85,0L0,0.95L-0.85,0Z","M-3.57,-0.13H3.57V0.13H-3.57Z M-0.95,-0.95H0.95V0.95H-0.95Z","M-3.57,-0.13H3.57V0.13H-3.57Z M0,-1L1,0.8H-1Z","M-3.57,-0.13H3.57V0.13H-3.57Z M-0.95,-0.85L-0.8,-1L0.95,0.85L0.8,1Z M0.8,-1L0.95,-0.85L-0.8,1L-0.95,0.85Z","M-3.57,-0.13H3.57V0.13H-3.57Z M-0.95,-0.85L-0.8,-1L0.95,0.85L0.8,1Z M0.8,-1L0.95,-0.85L-0.8,1L-0.95,0.85Z M-0.1,-1H0.1V1H-0.1Z","M-3.57,-0.13H3.57V0.13H-3.57Z M-1,0A1,1,0,0,1,1,0A1,1,0,0,1,-1,0Z","M-3.57,-0.13H3.57V0.13H-3.57Z M-0.1,-1H0.1V1H-0.1Z","M-3.57,-0.13H3.57V0.13H-3.57Z M-0.5,-0.2H0.5V0.2H-0.5Z","M-3.57,-0.13H3.57V0.13H-3.57Z M-1,-0.2H1V0.2H-1Z","M-3.57,-0.13H3.57V0.13H-3.57Z M-1,0A1,1,0,0,1,1,0A1,1,0,0,1,-1,0Z","M-3.57,-0.13H3.57V0.13H-3.57Z M-1,0A1,1,0,0,1,1,0A1,1,0,0,1,-1,0Z","circle","circle","circle","circle","circle"]}, "legend": {"values": ["sc","vf","wp","ap","li","el","sh","dhw","ck","sc2","vf2"], "title": null, "orient": "none", "direction": "vertical", "legendX": 1008, "legendY": 37, "labelExpr": "datum.value === 'sc' || datum.value === 'sc2' ? 'space cooling' : datum.value === 'vf' || datum.value === 'vf2' ? 'ventilation fan' : datum.value === 'wp' ? 'water pump' : datum.value === 'ap' ? 'appliance' : datum.value === 'li' ? 'lighting' : datum.value === 'el' ? 'elevator' : datum.value === 'sh' ? 'space heating' : datum.value === 'dhw' ? 'domestic hot water' : 'cooking'"}}
  }}
 ],
 "resolve": {"scale": {"color": "independent", "shape": "independent"}}
},
{"data": {"name": "f"}, "width": 893, "height": 913,
 "encoding": {
  "x": {"field": "m", "type": "ordinal", "sort": ["Jan.","Feb.","Mar.","Apr.","May.","Jun.","Jul.","Aug.","Sep.","Oct.","Now.","Dec."], "scale": {"type": "band", "domain": ["Jan.","Feb.","Mar.","Apr.","May.","Jun.","Jul.","Aug.","Sep.","Oct.","Now.","Dec."], "paddingInner": 0, "paddingOuter": 0}, "axis": {"grid": true, "title": "(f)", "titleX": 510, "titleY": 184}},
  "y": {"field": "v", "type": "quantitative", "scale": {"domain": [0, 8], "nice": false}, "axis": {"values": [0,1,2,3,4,5,6,7,8], "format": ".2f", "title": ["Energy consumption per unit area", "Unit: kgce/(㎡·a)"]}}
 },
 "layer": [
  {"mark": {"type": "line", "strokeWidth": 5.5}, "encoding": {"color": {"field": "s", "type": "nominal", "legend": null, "scale": {"domain": ["sc","vf","wp","ap","li","el","sh","dhw","ck","sc2","vf2","o1","o2","o3","o4","o5"], "range": ["#FF8000","#00207F","#006400","#1A7BD0","#FF5A28","#A6A6A6","#FFA000","#2E4DA7","#1E8B32","#0057B7","#FF3300","#FF9700","#001848","#0B6F0B","#404040","#640C00"]}}}},
  {"mark": {"type": "point", "filled": true, "opacity": 1, "size": 1000, "strokeWidth": 0}, "encoding": {"color": {"field": "s", "type": "nominal", "legend": null, "scale": {"domain": ["sc","vf","wp","ap","li","el","sh","dhw","ck","sc2","vf2","o1","o2","o3","o4","o5"], "range": ["#FF8000","#00207F","#006400","#1A7BD0","#FF5A28","#A6A6A6","#FFA000","#2E4DA7","#1E8B32","#0057B7","#FF3300","#FF9700","#001848","#0B6F0B","#404040","#640C00"]}}, "shape": {"field": "s", "type": "nominal", "legend": null, "scale": {"domain": ["sc","vf","wp","ap","li","el","sh","dhw","ck","sc2","vf2","o1","o2","o3","o4","o5"], "range": ["M0,-0.95L0.85,0L0,0.95L-0.85,0Z","M-0.95,-0.95H0.95V0.95H-0.95Z","M0,-1L1,0.8H-1Z","M-0.95,-0.85L-0.8,-1L0.95,0.85L0.8,1Z M0.8,-1L0.95,-0.85L-0.8,1L-0.95,0.85Z","M-0.95,-0.85L-0.8,-1L0.95,0.85L0.8,1Z M0.8,-1L0.95,-0.85L-0.8,1L-0.95,0.85Z M-0.1,-1H0.1V1H-0.1Z","circle","M-1,-0.1H1V0.1H-1Z M-0.1,-1H0.1V1H-0.1Z","M-0.5,-0.2H0.5V0.2H-0.5Z","M-1,-0.2H1V0.2H-1Z","circle","circle","circle","circle","circle","circle","circle"]}}}},
  {"transform": [{"filter": "datum.v < -100"}], "mark": {"type": "point", "filled": true, "opacity": 1, "size": 900, "strokeWidth": 0}, "encoding": {
   "color": {"field": "s", "type": "nominal", "scale": {"domain": ["sc","vf","wp","ap","li","el","sh","dhw","ck","sc2","vf2","o1","o2","o3","o4","o5"], "range": ["#FF8000","#00207F","#006400","#1A7BD0","#FF5A28","#A6A6A6","#FFA000","#2E4DA7","#1E8B32","#0057B7","#FF3300","#FF9700","#001848","#0B6F0B","#404040","#640C00"]}, "legend": {"values": ["sc","vf","wp","ap","li","el","sh","dhw","ck","sc2","vf2"], "title": null, "orient": "none", "direction": "vertical", "legendX": 1008, "legendY": 37, "labelExpr": "datum.value === 'sc' || datum.value === 'sc2' ? 'space cooling' : datum.value === 'vf' || datum.value === 'vf2' ? 'ventilation fan' : datum.value === 'wp' ? 'water pump' : datum.value === 'ap' ? 'appliance' : datum.value === 'li' ? 'lighting' : datum.value === 'el' ? 'elevator' : datum.value === 'sh' ? 'space heating' : datum.value === 'dhw' ? 'domestic hot water' : 'cooking'"}},
   "shape": {"field": "s", "type": "nominal", "scale": {"domain": ["sc","vf","wp","ap","li","el","sh","dhw","ck","sc2","vf2","o1","o2","o3","o4","o5"], "range": ["M-3.57,-0.13H3.57V0.13H-3.57Z M0,-0.95L0.85,0L0,0.95L-0.85,0Z","M-3.57,-0.13H3.57V0.13H-3.57Z M-0.95,-0.95H0.95V0.95H-0.95Z","M-3.57,-0.13H3.57V0.13H-3.57Z M0,-1L1,0.8H-1Z","M-3.57,-0.13H3.57V0.13H-3.57Z M-0.95,-0.85L-0.8,-1L0.95,0.85L0.8,1Z M0.8,-1L0.95,-0.85L-0.8,1L-0.95,0.85Z","M-3.57,-0.13H3.57V0.13H-3.57Z M-0.95,-0.85L-0.8,-1L0.95,0.85L0.8,1Z M0.8,-1L0.95,-0.85L-0.8,1L-0.95,0.85Z M-0.1,-1H0.1V1H-0.1Z","M-3.57,-0.13H3.57V0.13H-3.57Z M-1,0A1,1,0,0,1,1,0A1,1,0,0,1,-1,0Z","M-3.57,-0.13H3.57V0.13H-3.57Z M-0.1,-1H0.1V1H-0.1Z","M-3.57,-0.13H3.57V0.13H-3.57Z M-0.5,-0.2H0.5V0.2H-0.5Z","M-3.57,-0.13H3.57V0.13H-3.57Z M-1,-0.2H1V0.2H-1Z","M-3.57,-0.13H3.57V0.13H-3.57Z M-1,0A1,1,0,0,1,1,0A1,1,0,0,1,-1,0Z","M-3.57,-0.13H3.57V0.13H-3.57Z M-1,0A1,1,0,0,1,1,0A1,1,0,0,1,-1,0Z","circle","circle","circle","circle","circle"]}, "legend": {"values": ["sc","vf","wp","ap","li","el","sh","dhw","ck","sc2","vf2"], "title": null, "orient": "none", "direction": "vertical", "legendX": 1008, "legendY": 37, "labelExpr": "datum.value === 'sc' || datum.value === 'sc2' ? 'space cooling' : datum.value === 'vf' || datum.value === 'vf2' ? 'ventilation fan' : datum.value === 'wp' ? 'water pump' : datum.value === 'ap' ? 'appliance' : datum.value === 'li' ? 'lighting' : datum.value === 'el' ? 'elevator' : datum.value === 'sh' ? 'space heating' : datum.value === 'dhw' ? 'domestic hot water' : 'cooking'"}}
  }}
 ],
 "resolve": {"scale": {"color": "independent", "shape": "independent"}}
}
]},
{"spacing": 88, "hconcat": [
{"data": {"name": "g"}, "width": 893, "height": 895,
 "encoding": {
  "x": {"field": "m", "type": "ordinal", "sort": ["Jan.","Feb.","Mar.","Apr.","May.","Jun.","Jul.","Aug.","Sep.","Oct.","Now.","Dec."], "scale": {"type": "band", "domain": ["Jan.","Feb.","Mar.","Apr.","May.","Jun.","Jul.","Aug.","Sep.","Oct.","Now.","Dec."], "paddingInner": 0, "paddingOuter": 0}, "axis": {"grid": true, "title": "(g)", "titleX": 506, "titleY": 246}},
  "y": {"field": "v", "type": "quantitative", "scale": {"domain": [0, 4.5], "nice": false}, "axis": {"values": [0,0.5,1,1.5,2,2.5,3,3.5,4,4.5], "format": ".2f", "title": ["Energy consumption per unit area", "Unit: kgce/(㎡·a)"]}}
 },
 "layer": [
  {"mark": {"type": "line", "strokeWidth": 5.5}, "encoding": {"color": {"field": "s", "type": "nominal", "legend": null, "scale": {"domain": ["sc","vf","wp","ap","li","el","sh","dhw","ck","sc2","vf2","o1","o2","o3","o4","o5"], "range": ["#FF8000","#00207F","#006400","#1A7BD0","#FF5A28","#A6A6A6","#FFA000","#2E4DA7","#1E8B32","#0057B7","#FF3300","#FF9700","#001848","#0B6F0B","#404040","#640C00"]}}}},
  {"mark": {"type": "point", "filled": true, "opacity": 1, "size": 1000, "strokeWidth": 0}, "encoding": {"color": {"field": "s", "type": "nominal", "legend": null, "scale": {"domain": ["sc","vf","wp","ap","li","el","sh","dhw","ck","sc2","vf2","o1","o2","o3","o4","o5"], "range": ["#FF8000","#00207F","#006400","#1A7BD0","#FF5A28","#A6A6A6","#FFA000","#2E4DA7","#1E8B32","#0057B7","#FF3300","#FF9700","#001848","#0B6F0B","#404040","#640C00"]}}, "shape": {"field": "s", "type": "nominal", "legend": null, "scale": {"domain": ["sc","vf","wp","ap","li","el","sh","dhw","ck","sc2","vf2","o1","o2","o3","o4","o5"], "range": ["M0,-0.95L0.85,0L0,0.95L-0.85,0Z","M-0.95,-0.95H0.95V0.95H-0.95Z","M0,-1L1,0.8H-1Z","M-0.95,-0.85L-0.8,-1L0.95,0.85L0.8,1Z M0.8,-1L0.95,-0.85L-0.8,1L-0.95,0.85Z","M-0.95,-0.85L-0.8,-1L0.95,0.85L0.8,1Z M0.8,-1L0.95,-0.85L-0.8,1L-0.95,0.85Z M-0.1,-1H0.1V1H-0.1Z","circle","M-1,-0.1H1V0.1H-1Z M-0.1,-1H0.1V1H-0.1Z","M-0.5,-0.2H0.5V0.2H-0.5Z","M-1,-0.2H1V0.2H-1Z","circle","circle","circle","circle","circle","circle","circle"]}}}},
  {"transform": [{"filter": "datum.v < -100"}], "mark": {"type": "point", "filled": true, "opacity": 1, "size": 900, "strokeWidth": 0}, "encoding": {
   "color": {"field": "s", "type": "nominal", "scale": {"domain": ["sc","vf","wp","ap","li","el","sh","dhw","ck","sc2","vf2","o1","o2","o3","o4","o5"], "range": ["#FF8000","#00207F","#006400","#1A7BD0","#FF5A28","#A6A6A6","#FFA000","#2E4DA7","#1E8B32","#0057B7","#FF3300","#FF9700","#001848","#0B6F0B","#404040","#640C00"]}, "legend": {"values": ["sc","vf","wp","ap","li","el","sh","dhw","ck","sc2","vf2"], "title": null, "orient": "none", "direction": "vertical", "legendX": 1008, "legendY": 37, "labelExpr": "datum.value === 'sc' || datum.value === 'sc2' ? 'space cooling' : datum.value === 'vf' || datum.value === 'vf2' ? 'ventilation fan' : datum.value === 'wp' ? 'water pump' : datum.value === 'ap' ? 'appliance' : datum.value === 'li' ? 'lighting' : datum.value === 'el' ? 'elevator' : datum.value === 'sh' ? 'space heating' : datum.value === 'dhw' ? 'domestic hot water' : 'cooking'"}},
   "shape": {"field": "s", "type": "nominal", "scale": {"domain": ["sc","vf","wp","ap","li","el","sh","dhw","ck","sc2","vf2","o1","o2","o3","o4","o5"], "range": ["M-3.57,-0.13H3.57V0.13H-3.57Z M0,-0.95L0.85,0L0,0.95L-0.85,0Z","M-3.57,-0.13H3.57V0.13H-3.57Z M-0.95,-0.95H0.95V0.95H-0.95Z","M-3.57,-0.13H3.57V0.13H-3.57Z M0,-1L1,0.8H-1Z","M-3.57,-0.13H3.57V0.13H-3.57Z M-0.95,-0.85L-0.8,-1L0.95,0.85L0.8,1Z M0.8,-1L0.95,-0.85L-0.8,1L-0.95,0.85Z","M-3.57,-0.13H3.57V0.13H-3.57Z M-0.95,-0.85L-0.8,-1L0.95,0.85L0.8,1Z M0.8,-1L0.95,-0.85L-0.8,1L-0.95,0.85Z M-0.1,-1H0.1V1H-0.1Z","M-3.57,-0.13H3.57V0.13H-3.57Z M-1,0A1,1,0,0,1,1,0A1,1,0,0,1,-1,0Z","M-3.57,-0.13H3.57V0.13H-3.57Z M-0.1,-1H0.1V1H-0.1Z","M-3.57,-0.13H3.57V0.13H-3.57Z M-0.5,-0.2H0.5V0.2H-0.5Z","M-3.57,-0.13H3.57V0.13H-3.57Z M-1,-0.2H1V0.2H-1Z","M-3.57,-0.13H3.57V0.13H-3.57Z M-1,0A1,1,0,0,1,1,0A1,1,0,0,1,-1,0Z","M-3.57,-0.13H3.57V0.13H-3.57Z M-1,0A1,1,0,0,1,1,0A1,1,0,0,1,-1,0Z","circle","circle","circle","circle","circle"]}, "legend": {"values": ["sc","vf","wp","ap","li","el","sh","dhw","ck","sc2","vf2"], "title": null, "orient": "none", "direction": "vertical", "legendX": 1008, "legendY": 37, "labelExpr": "datum.value === 'sc' || datum.value === 'sc2' ? 'space cooling' : datum.value === 'vf' || datum.value === 'vf2' ? 'ventilation fan' : datum.value === 'wp' ? 'water pump' : datum.value === 'ap' ? 'appliance' : datum.value === 'li' ? 'lighting' : datum.value === 'el' ? 'elevator' : datum.value === 'sh' ? 'space heating' : datum.value === 'dhw' ? 'domestic hot water' : 'cooking'"}}
  }}
 ],
 "resolve": {"scale": {"color": "independent", "shape": "independent"}}
},
{"data": {"name": "h"}, "width": 893, "height": 913,
 "encoding": {
  "x": {"field": "m", "type": "ordinal", "sort": ["Jan.","Feb.","Mar.","Apr.","May.","Jun.","Jul.","Aug.","Sep.","Oct.","Now.","Dec."], "scale": {"type": "band", "domain": ["Jan.","Feb.","Mar.","Apr.","May.","Jun.","Jul.","Aug.","Sep.","Oct.","Now.","Dec."], "paddingInner": 0, "paddingOuter": 0}, "axis": {"grid": true, "title": "(h)", "titleX": 510, "titleY": 235}},
  "y": {"field": "v", "type": "quantitative", "scale": {"domain": [0, 5], "nice": false}, "axis": {"values": [0,0.5,1,1.5,2,2.5,3,3.5,4,4.5,5], "format": ".2f", "title": ["Energy consumption per unit area", "Unit: kgce/(㎡·a)"]}}
 },
 "layer": [
  {"mark": {"type": "line", "strokeWidth": 5.5}, "encoding": {"color": {"field": "s", "type": "nominal", "legend": null, "scale": {"domain": ["sc","vf","wp","ap","li","el","sh","dhw","ck","sc2","vf2","o1","o2","o3","o4","o5"], "range": ["#FF8000","#00207F","#006400","#1A7BD0","#FF5A28","#A6A6A6","#FFA000","#2E4DA7","#1E8B32","#0057B7","#FF3300","#FF9700","#001848","#0B6F0B","#404040","#640C00"]}}}},
  {"mark": {"type": "point", "filled": true, "opacity": 1, "size": 1000, "strokeWidth": 0}, "encoding": {"color": {"field": "s", "type": "nominal", "legend": null, "scale": {"domain": ["sc","vf","wp","ap","li","el","sh","dhw","ck","sc2","vf2","o1","o2","o3","o4","o5"], "range": ["#FF8000","#00207F","#006400","#1A7BD0","#FF5A28","#A6A6A6","#FFA000","#2E4DA7","#1E8B32","#0057B7","#FF3300","#FF9700","#001848","#0B6F0B","#404040","#640C00"]}}, "shape": {"field": "s", "type": "nominal", "legend": null, "scale": {"domain": ["sc","vf","wp","ap","li","el","sh","dhw","ck","sc2","vf2","o1","o2","o3","o4","o5"], "range": ["M0,-0.95L0.85,0L0,0.95L-0.85,0Z","M-0.95,-0.95H0.95V0.95H-0.95Z","M0,-1L1,0.8H-1Z","M-0.95,-0.85L-0.8,-1L0.95,0.85L0.8,1Z M0.8,-1L0.95,-0.85L-0.8,1L-0.95,0.85Z","M-0.95,-0.85L-0.8,-1L0.95,0.85L0.8,1Z M0.8,-1L0.95,-0.85L-0.8,1L-0.95,0.85Z M-0.1,-1H0.1V1H-0.1Z","circle","M-1,-0.1H1V0.1H-1Z M-0.1,-1H0.1V1H-0.1Z","M-0.5,-0.2H0.5V0.2H-0.5Z","M-1,-0.2H1V0.2H-1Z","circle","circle","circle","circle","circle","circle","circle"]}}}},
  {"transform": [{"filter": "datum.v < -100"}], "mark": {"type": "point", "filled": true, "opacity": 1, "size": 900, "strokeWidth": 0}, "encoding": {
   "color": {"field": "s", "type": "nominal", "scale": {"domain": ["sc","vf","wp","ap","li","el","sh","dhw","ck","sc2","vf2","o1","o2","o3","o4","o5"], "range": ["#FF8000","#00207F","#006400","#1A7BD0","#FF5A28","#A6A6A6","#FFA000","#2E4DA7","#1E8B32","#0057B7","#FF3300","#FF9700","#001848","#0B6F0B","#404040","#640C00"]}, "legend": {"values": ["sc","vf","wp","ap","li","el","sh","dhw","ck","sc2","vf2"], "title": null, "orient": "none", "direction": "vertical", "legendX": 1008, "legendY": 37, "labelExpr": "datum.value === 'sc' || datum.value === 'sc2' ? 'space cooling' : datum.value === 'vf' || datum.value === 'vf2' ? 'ventilation fan' : datum.value === 'wp' ? 'water pump' : datum.value === 'ap' ? 'appliance' : datum.value === 'li' ? 'lighting' : datum.value === 'el' ? 'elevator' : datum.value === 'sh' ? 'space heating' : datum.value === 'dhw' ? 'domestic hot water' : 'cooking'"}},
   "shape": {"field": "s", "type": "nominal", "scale": {"domain": ["sc","vf","wp","ap","li","el","sh","dhw","ck","sc2","vf2","o1","o2","o3","o4","o5"], "range": ["M-3.57,-0.13H3.57V0.13H-3.57Z M0,-0.95L0.85,0L0,0.95L-0.85,0Z","M-3.57,-0.13H3.57V0.13H-3.57Z M-0.95,-0.95H0.95V0.95H-0.95Z","M-3.57,-0.13H3.57V0.13H-3.57Z M0,-1L1,0.8H-1Z","M-3.57,-0.13H3.57V0.13H-3.57Z M-0.95,-0.85L-0.8,-1L0.95,0.85L0.8,1Z M0.8,-1L0.95,-0.85L-0.8,1L-0.95,0.85Z","M-3.57,-0.13H3.57V0.13H-3.57Z M-0.95,-0.85L-0.8,-1L0.95,0.85L0.8,1Z M0.8,-1L0.95,-0.85L-0.8,1L-0.95,0.85Z M-0.1,-1H0.1V1H-0.1Z","M-3.57,-0.13H3.57V0.13H-3.57Z M-1,0A1,1,0,0,1,1,0A1,1,0,0,1,-1,0Z","M-3.57,-0.13H3.57V0.13H-3.57Z M-0.1,-1H0.1V1H-0.1Z","M-3.57,-0.13H3.57V0.13H-3.57Z M-0.5,-0.2H0.5V0.2H-0.5Z","M-3.57,-0.13H3.57V0.13H-3.57Z M-1,-0.2H1V0.2H-1Z","M-3.57,-0.13H3.57V0.13H-3.57Z M-1,0A1,1,0,0,1,1,0A1,1,0,0,1,-1,0Z","M-3.57,-0.13H3.57V0.13H-3.57Z M-1,0A1,1,0,0,1,1,0A1,1,0,0,1,-1,0Z","circle","circle","circle","circle","circle"]}, "legend": {"values": ["sc","vf","wp","ap","li","el","sh","dhw","ck","sc2","vf2"], "title": null, "orient": "none", "direction": "vertical", "legendX": 1008, "legendY": 37, "labelExpr": "datum.value === 'sc' || datum.value === 'sc2' ? 'space cooling' : datum.value === 'vf' || datum.value === 'vf2' ? 'ventilation fan' : datum.value === 'wp' ? 'water pump' : datum.value === 'ap' ? 'appliance' : datum.value === 'li' ? 'lighting' : datum.value === 'el' ? 'elevator' : datum.value === 'sh' ? 'space heating' : datum.value === 'dhw' ? 'domestic hot water' : 'cooking'"}}
  }}
 ],
 "resolve": {"scale": {"color": "independent", "shape": "independent"}}
}
]}
]
}
